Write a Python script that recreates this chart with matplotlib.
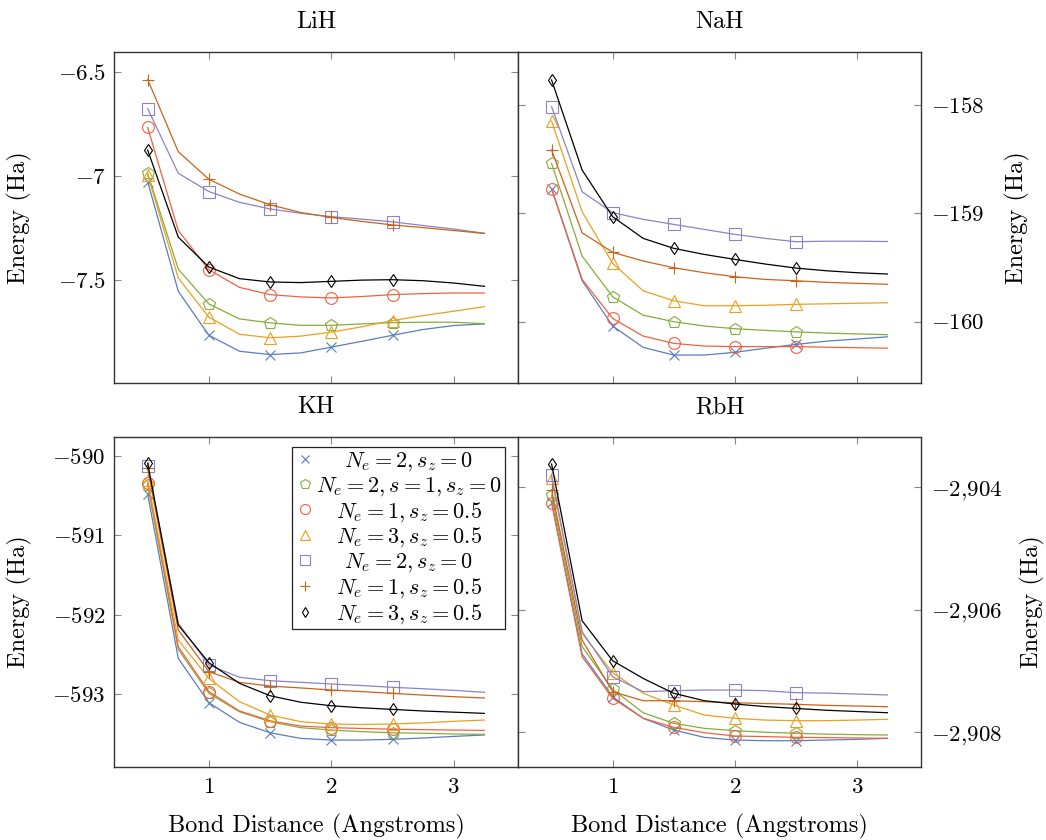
import numpy as np
import matplotlib
matplotlib.use("Agg")
import matplotlib.pyplot as plt
from matplotlib.ticker import FixedLocator, FixedFormatter

plt.rcParams['font.family'] = 'serif'
plt.rcParams['font.serif'] = ['cmr10']
plt.rcParams['mathtext.fontset'] = 'cm'
plt.rcParams['axes.unicode_minus'] = False
plt.rcParams['axes.formatter.use_mathtext'] = True

FS_TICK = 16.5
FS_LABEL = 17.5
FS_TITLE = 17.5
FS_LEG = 16

# ---------------- data ----------------
BOND = [0.5, 0.75, 1.0, 1.25, 1.5, 1.75, 2.0, 2.25, 2.5, 2.75, 3.0, 3.25]
MOLECULES = ['LiH', 'NaH', 'KH', 'RbH']

LABELS = [r'$N_e=2, s_z=0$', r'$N_e=2, s=1, s_z=0$', r'$N_e=1, s_z=0.5$',
          r'$N_e=3, s_z=0.5$', r'$N_e=2, s_z=0$', r'$N_e=1, s_z=0.5$',
          r'$N_e=3, s_z=0.5$']

# LiH
LIH_CROSS = [-7.027, -7.556, -7.768, -7.845, -7.861, -7.853, -7.825, -7.797, -7.768, -7.740, -7.721, -7.713]
LIH_PENT = [-6.987, -7.449, -7.617, -7.689, -7.708, -7.720, -7.720, -7.713, -7.707, -7.705, -7.705, -7.712]
LIH_CIRC = [-6.766, -7.263, -7.452, -7.537, -7.572, -7.583, -7.588, -7.581, -7.572, -7.567, -7.564, -7.564]
LIH_TRI = [-6.995, -7.492, -7.681, -7.763, -7.780, -7.772, -7.753, -7.727, -7.697, -7.673, -7.652, -7.630]
LIH_SQ = [-6.675, -6.987, -7.075, -7.127, -7.159, -7.180, -7.196, -7.208, -7.221, -7.239, -7.256, -7.276]
LIH_PLUS = [-6.535, -6.883, -7.016, -7.087, -7.139, -7.176, -7.200, -7.219, -7.236, -7.249, -7.263, -7.277]
LIH_DIAM = [-6.875, -7.295, -7.439, -7.495, -7.511, -7.514, -7.508, -7.502, -7.500, -7.505, -7.516, -7.532]

# NaH
NAH_CROSS = [-158.772, -159.622, -160.040, -160.237, -160.308, -160.308, -160.283, -160.245, -160.210, -160.180, -160.160, -160.140]
NAH_PENT = [-158.538, -159.394, -159.770, -159.940, -160.000, -160.040, -160.065, -160.080, -160.094, -160.105, -160.113, -160.120]
NAH_CIRC = [-158.772, -159.609, -159.970, -160.133, -160.200, -160.225, -160.230, -160.230, -160.230, -160.236, -160.240, -160.245]
NAH_TRI = [-158.148, -158.985, -159.462, -159.715, -159.807, -159.853, -159.853, -159.848, -159.840, -159.835, -159.830, -159.825]
NAH_SQ = [-158.015, -158.800, -158.994, -159.055, -159.102, -159.148, -159.194, -159.231, -159.262, -159.257, -159.257, -159.260]
NAH_PLUS = [-158.415, -159.179, -159.360, -159.440, -159.502, -159.548, -159.585, -159.610, -159.622, -159.637, -159.646, -159.655]
NAH_DIAM = [-157.769, -158.600, -159.031, -159.231, -159.323, -159.379, -159.425, -159.468, -159.505, -159.530, -159.548, -159.560]

# KH
KH_CROSS = [-590.478, -592.547, -593.105, -593.353, -593.484, -593.555, -593.576, -593.576, -593.567, -593.550, -593.530, -593.512]
KH_PENT = [-590.365, -592.434, -592.988, -593.220, -593.345, -593.420, -593.450, -593.470, -593.484, -593.490, -593.500, -593.504]
KH_CIRC = [-590.336, -592.400, -592.967, -593.210, -593.333, -593.400, -593.420, -593.430, -593.440, -593.445, -593.450, -593.455]
KH_TRI = [-590.302, -592.317, -592.800, -593.093, -593.261, -593.345, -593.374, -593.380, -593.374, -593.360, -593.340, -593.324]
KH_SQ = [-590.122, -592.107, -592.631, -592.786, -592.829, -592.849, -592.870, -592.890, -592.912, -592.930, -592.950, -592.975]
KH_PLUS = [-590.155, -592.190, -592.715, -592.850, -592.896, -592.920, -592.946, -592.966, -592.988, -593.010, -593.030, -593.047]
KH_DIAM = [-590.092, -592.128, -592.602, -592.862, -593.018, -593.100, -593.144, -593.170, -593.190, -593.210, -593.225, -593.240]

# RbH
RBH_CROSS = [-2904.235, -2906.720, -2907.420, -2907.771, -2907.963, -2908.082, -2908.126, -2908.137, -2908.137, -2908.126, -2908.115, -2908.098]
RBH_PENT = [-2904.126, -2906.600, -2907.298, -2907.680, -2907.853, -2907.935, -2907.974, -2907.998, -2908.016, -2908.030, -2908.038, -2908.044]
RBH_CIRC = [-2904.251, -2906.765, -2907.445, -2907.771, -2907.918, -2908.006, -2908.060, -2908.070, -2908.082, -2908.087, -2908.092, -2908.098]
RBH_TRI = [-2903.853, -2906.384, -2907.027, -2907.363, -2907.554, -2907.718, -2907.771, -2907.800, -2907.810, -2907.810, -2907.800, -2907.788]
RBH_SQ = [-2903.800, -2906.357, -2907.092, -2907.337, -2907.320, -2907.310, -2907.310, -2907.320, -2907.353, -2907.360, -2907.375, -2907.390]
RBH_PLUS = [-2904.044, -2906.493, -2907.337, -2907.484, -2907.484, -2907.500, -2907.517, -2907.530, -2907.543, -2907.560, -2907.570, -2907.582]
RBH_DIAM = [-2903.620, -2906.178, -2906.831, -2907.120, -2907.363, -2907.484, -2907.538, -2907.580, -2907.610, -2907.640, -2907.660, -2907.680]

SERIES = {
    'LiH': [LIH_CROSS, LIH_PENT, LIH_CIRC, LIH_TRI, LIH_SQ, LIH_PLUS, LIH_DIAM],
    'NaH': [NAH_CROSS, NAH_PENT, NAH_CIRC, NAH_TRI, NAH_SQ, NAH_PLUS, NAH_DIAM],
    'KH': [KH_CROSS, KH_PENT, KH_CIRC, KH_TRI, KH_SQ, KH_PLUS, KH_DIAM],
    'RbH': [RBH_CROSS, RBH_PENT, RBH_CIRC, RBH_TRI, RBH_SQ, RBH_PLUS, RBH_DIAM],
}

Y_TICKS = {
    'LiH': [-7.5, -7.0, -6.5],
    'NaH': [-160, -159, -158],
    'KH': [-593, -592, -591, -590],
    'RbH': [-2908, -2906, -2904],
}
Y_TICKLABELS = {
    'LiH': [r'$-7.5$', r'$-7$', r'$-6.5$'],
    'NaH': [r'$-160$', r'$-159$', r'$-158$'],
    'KH': [r'$-593$', r'$-592$', r'$-591$', r'$-590$'],
    'RbH': [r'$-2{,}908$', r'$-2{,}906$', r'$-2{,}904$'],
}
X_TICKS = [1, 2, 3]
X_TICKLABELS = [r'$1$', r'$2$', r'$3$']

# ---------------- styles ----------------
COLORS = ['#5a7dbf', '#86ad3a', '#f0623f', '#eaa020', '#8b83c6', '#c8641a', '#000000']
MARKERS = ['x', 'p', 'o', '^', 's', '+', 'd']
MSIZES = [6.5, 9, 8.5, 9, 8, 8.5, 6.5]

YLIMS = {
    'LiH': (-7.998, -6.400),
    'NaH': (-160.566, -157.506),
    'KH': (-593.919, -589.757),
    'RbH': (-2908.571, -2903.174),
}

W, H = 1046, 840
fig = plt.figure(figsize=(W / 100, H / 100), dpi=100)
xl, xm, xr = 114 / W, 518 / W, 921 / W
top_t, top_b = 51.5 / H, 383 / H
bot_t, bot_b = 436.7 / H, 767.3 / H
rects = {
    'LiH': [xl, 1 - top_b, xm - xl, top_b - top_t],
    'NaH': [xm, 1 - top_b, xr - xm, top_b - top_t],
    'KH': [xl, 1 - bot_b, xm - xl, bot_b - bot_t],
    'RbH': [xm, 1 - bot_b, xr - xm, bot_b - bot_t],
}

mark_idx = [0, 2, 4, 6, 8]
LEG = None
for mol in MOLECULES:
    ax = fig.add_axes(rects[mol])
    x = np.array(BOND)
    for k, ys in enumerate(SERIES[mol]):
        y = np.array(ys)
        ax.plot(x, y, '-', color=COLORS[k], lw=0.9, zorder=2 + k)
        ax.plot(x[mark_idx], y[mark_idx], linestyle='none', marker=MARKERS[k],
                ms=MSIZES[k], mfc='none', mec=COLORS[k], mew=0.8,
                label=LABELS[k], zorder=2 + k)
    ax.set_xlim(0.225, 3.525)
    ax.set_ylim(*YLIMS[mol])
    ax.xaxis.set_major_locator(FixedLocator(X_TICKS))
    ax.yaxis.set_major_locator(FixedLocator(Y_TICKS[mol]))
    ax.yaxis.set_major_formatter(FixedFormatter(Y_TICKLABELS[mol]))
    ax.tick_params(direction='in', top=True, right=True, length=5, width=0.8,
                   color='#888888', labelsize=FS_TICK)
    for sp in ax.spines.values():
        sp.set_linewidth(1.0)
        sp.set_color('#333333')
    ax.set_title(mol, fontsize=FS_TITLE, pad=17)
    right = mol in ('NaH', 'RbH')
    bottom = mol in ('KH', 'RbH')
    if right:
        ax.yaxis.tick_right()
        ax.tick_params(axis='y', left=True, right=True, labelleft=False,
                       labelright=True, pad=7.5)
        ax.yaxis.set_label_position('right')
    else:
        ax.tick_params(axis='y', pad=6)
    ax.set_ylabel('Energy (Ha)', fontsize=FS_LABEL)
    if right:
        ax.yaxis.set_label_coords(1.208 if mol == 'NaH' else 1.246, 0.5)
    else:
        ax.yaxis.set_label_coords(-0.203, 0.5)
    if bottom:
        ax.xaxis.set_major_formatter(FixedFormatter(X_TICKLABELS))
        ax.tick_params(axis='x', pad=7)
        ax.set_xlabel('Bond Distance (Angstroms)', fontsize=FS_LABEL)
        ax.xaxis.set_label_coords(0.5, -(814 - 767.3) / (bot_b - bot_t) / H)
    else:
        ax.tick_params(axis='x', labelbottom=False)
    if mol == 'KH':
        leg = ax.legend(loc='upper right', bbox_to_anchor=(0.968, 0.969),
                        borderaxespad=0, fontsize=FS_LEG, frameon=True, fancybox=False,
                        edgecolor='#222222', framealpha=1, handlelength=0.9,
                        handletextpad=0.05, labelspacing=0.09, borderpad=0.15,
                        markerscale=0.85)
        leg.get_frame().set_linewidth(0.9)
        LEG = leg

fig.canvas.draw()
r = fig.canvas.get_renderer()
texts = LEG.get_texts()
widths = [t.get_window_extent(r).width for t in texts]
wmax = max(widths)
for t, w in zip(texts, widths):
    t.set_x((wmax - w) / 2)

fig.savefig('out.png', dpi=100)
